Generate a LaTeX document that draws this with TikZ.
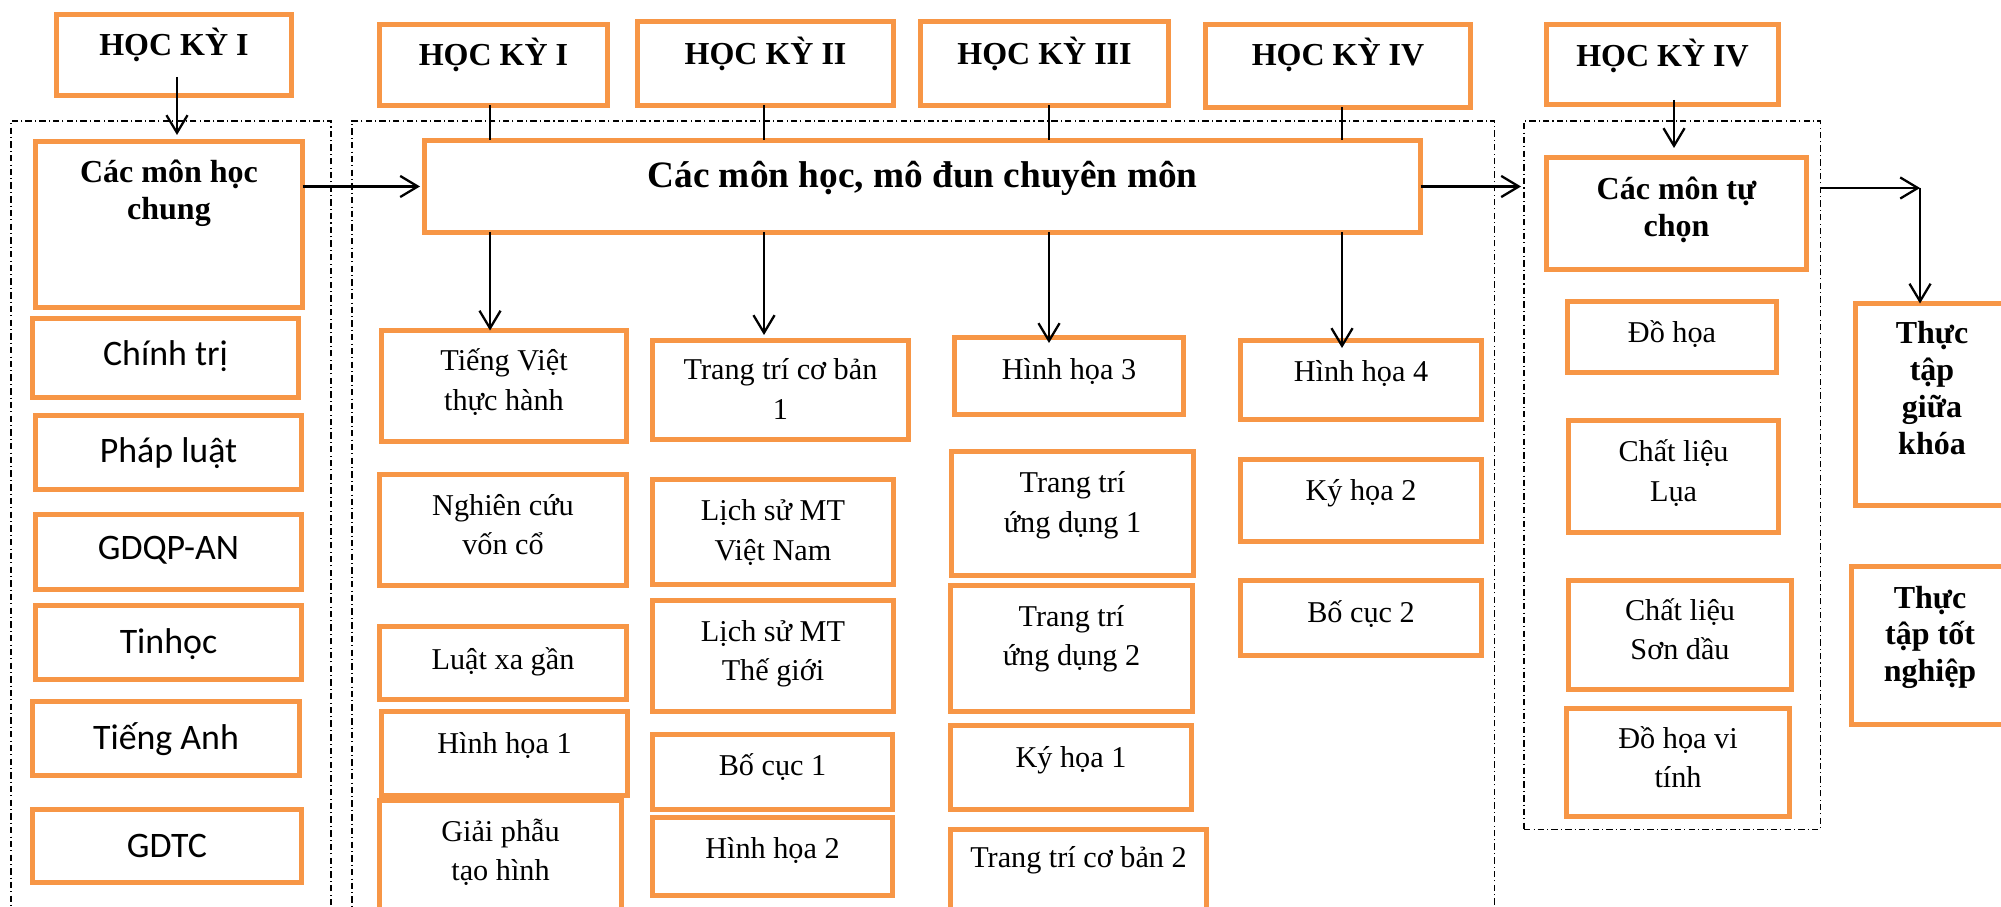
\documentclass[tikz,border=0pt]{standalone}
\usepackage{fontspec}
\setmainfont{Liberation Serif}
\newfontfamily\sansf{Carlito}
\usetikzlibrary{arrows.meta,calc}
\definecolor{ora}{HTML}{F79646}
\newcommand\stk[1]{\vtop{\lineskiplimit=-20pt\lineskip=0pt\halign{\hfil##\hfil\cr#1\crcr}}}
\newcommand\obox[8]{%
 \pgfmathsetlengthmacro\obw{(#4-#2-5)*0.01cm}%
 \pgfmathsetlengthmacro\obh{(#5-#3-5)*0.01cm}%
 \pgfmathsetlengthmacro\oby{(#7-2.5)*0.01cm}%
 \node[obox, minimum width=\obw, minimum height=\obh, anchor=north west] (#1) at ({#2+2.5},{#3+2.5}) {};
 \node[#6, anchor=base, inner sep=0pt] (#1-t) at ([yshift=-\oby]#1.north) {\stk{#8}};
}
\tikzset{
 obox/.style={draw=ora, line width=1.42pt, rectangle, inner sep=0pt, outer sep=0pt},
 dbox/.style={draw=black, line width=0.4pt, dash pattern=on 1.8pt off 0.9pt on 0.3pt off 0.9pt, rectangle, inner sep=0pt, outer sep=0pt},
 arr/.style={draw=black, line width=0.65pt, -{Straight Barb[length=5pt,width=6pt]}},
 ln/.style={draw=black, line width=0.65pt},
 ser/.style={font=\fontsize{8.6}{11.1}\selectfont},
 bol/.style={font=\fontsize{9.1}{10.5}\selectfont\bfseries},
 san/.style={font=\sansf\fontsize{10.2}{12}\selectfont},
 big/.style={font=\fontsize{10.6}{12}\selectfont\bfseries},
}
\begin{document}
\begin{tikzpicture}[x=0.01cm, y=-0.01cm]
\fill[white] (0,0) rectangle (2001,907);
\useasboundingbox (0,0) rectangle (2001,907);

% group frames
\node[dbox, minimum width=3.2cm, minimum height=8.2cm, anchor=north west] (dashL) at (11,121) {};
\node[dbox, minimum width=11.42cm, minimum height=8.2cm, anchor=north west] (dashM) at (352,121) {};
\node[dbox, minimum width=2.96cm, minimum height=7.08cm, anchor=north west] (dashR) at (1524,121) {};

% left column
\obox{hkA}{54}{12}{294}{98}{bol}{44}{HỌC KỲ I}
\obox{cmc}{33}{139}{305}{310}{bol}{44}{Các môn học\cr chung}
\obox{ct}{30}{316}{301}{400}{san}{50}{Chính trị}
\obox{pl}{33}{413}{304}{492}{san}{50}{Pháp luật}
\obox{gd}{33}{512}{304}{592}{san}{48}{GDQP-AN}
\obox{tin}{33}{603}{304}{682}{san}{50}{Tinhọc}
\obox{ta}{30}{699}{302}{778}{san}{50}{Tiếng Anh}
\obox{gdtc}{30}{807}{304}{885}{san}{50}{GDTC}

% semester heads
\obox{hk1}{377}{22}{610}{108}{bol}{44}{HỌC KỲ I}
\obox{hk2}{635}{19}{896}{108}{bol}{46}{HỌC KỲ II}
\obox{hk3}{918}{19}{1171}{108}{bol}{46}{HỌC KỲ III}
\obox{hk4}{1203}{22}{1473}{110}{bol}{44}{HỌC KỲ IV}
\obox{hk5}{1544}{22}{1781}{107}{bol}{45}{HỌC KỲ IV}

% main box
\obox{main}{422}{138}{1423}{235}{big}{50}{Các môn học, mô đun chuyên môn}

% column 1
\obox{tv}{379}{328}{629}{444}{ser}{43}{Tiếng Việt\cr thực hành}
\obox{nc}{377}{472}{629}{588}{ser}{43}{Nghiên cứu\cr vốn cổ}
\obox{lxg}{377}{624}{629}{702}{ser}{45}{Luật xa gần}
\obox{hh1}{379}{709}{630}{798}{ser}{44}{Hình họa 1}
\obox{gp}{377}{798}{624}{925}{ser}{43}{Giải phẫu\cr tạo hình}

% column 2
\obox{tt1}{650}{338}{911}{442}{ser}{42}{Trang trí cơ bản\cr 1}
\obox{lsvn}{650}{477}{896}{587}{ser}{44}{Lịch sử MT\cr Việt Nam}
\obox{lstg}{650}{598}{896}{714}{ser}{43}{Lịch sử MT\cr Thế giới}
\obox{bc1}{650}{732}{895}{812}{ser}{43}{Bố cục 1}
\obox{hh2}{650}{815}{895}{898}{ser}{43}{Hình họa 2}

% column 3
\obox{hh3}{952}{335}{1186}{417}{ser}{45}{Hình họa 3}
\obox{ttud1}{949}{449}{1196}{578}{ser}{44}{Trang trí\cr ứng dụng 1}
\obox{ttud2}{948}{583}{1195}{714}{ser}{43}{Trang trí\cr ứng dụng 2}
\obox{kh1}{948}{723}{1194}{812}{ser}{44}{Ký họa 1}
\obox{tt2}{948}{827}{1209}{925}{ser}{40}{Trang trí cơ bản 2}

% column 4
\obox{hh4}{1238}{338}{1484}{422}{ser}{44}{Hình họa 4}
\obox{kh2}{1238}{457}{1484}{544}{ser}{44}{Ký họa 2}
\obox{bc2}{1238}{578}{1484}{658}{ser}{44}{Bố cục 2}

% electives
\obox{tuchon}{1544}{155}{1809}{272}{bol}{45}{Các môn tự\cr chọn}
\obox{dh}{1565}{299}{1779}{375}{ser}{44}{Đồ họa}
\obox{lua}{1566}{418}{1781}{535}{ser}{44}{Chất liệu\cr Lụa}
\obox{sd}{1566}{578}{1794}{692}{ser}{42}{Chất liệu\cr Sơn dầu}
\obox{dhvt}{1564}{706}{1792}{819}{ser}{42}{Đồ họa vi\cr tính}

% internships
\obox{ttgk}{1853}{301}{2011}{508}{bol}{43}{Thực\cr tập\cr giữa\cr khóa}
\obox{tttn}{1849}{564}{2011}{727}{bol}{44}{Thực\cr tập tốt\cr nghiệp}

% connectors
\draw[arr, shorten >=0.065cm] ([xshift=0.03cm,yshift=0.185cm]hkA.south) -- ([xshift=0.03cm]hkA.south |- cmc.north);
\draw[arr, shorten >=0.045cm] (cmc.east |- main.west) -- (main.west);

\draw[ln] ([xshift=-0.035cm]hk1.south) -- ([xshift=-0.035cm]hk1.south |- main.north);
\draw[ln] ([xshift=-0.015cm]hk2.south) -- ([xshift=-0.015cm]hk2.south |- main.north);
\draw[ln] ([xshift=0.045cm]hk3.south) -- ([xshift=0.045cm]hk3.south |- main.north);
\draw[ln] ([xshift=0.04cm]hk4.south) -- ([xshift=0.04cm]hk4.south |- main.north);

\draw[arr] ([xshift=-0.035cm]hk1.south |- main.south) -- ([xshift=-0.035cm]hk1.south |- tv.north);
\draw[arr, shorten >=0.055cm] ([xshift=-0.015cm]hk2.south |- main.south) -- ([xshift=-0.015cm]hk2.south |- tt1.north);
\draw[arr, shorten >=-0.055cm] ([xshift=0.045cm]hk3.south |- main.south) -- ([xshift=0.045cm]hk3.south |- hh3.north);
\draw[arr, shorten >=-0.075cm] ([xshift=0.04cm]hk4.south |- main.south) -- ([xshift=0.04cm]hk4.south |- hh4.north);

\draw[arr, shorten >=0.03cm] (main.east) -- (main.east -| dashR.west);
\draw[arr, shorten >=0.095cm] ([xshift=-0.025cm,yshift=0.045cm]tuchon.north |- hk5.south) -- ([xshift=-0.025cm]tuchon.north);

\coordinate (crn) at (1920,188);
\draw[arr] (dashR.east |- crn) -- (crn);
\draw[arr] (crn) -- (crn |- ttgk.north);
\end{tikzpicture}
\end{document}
